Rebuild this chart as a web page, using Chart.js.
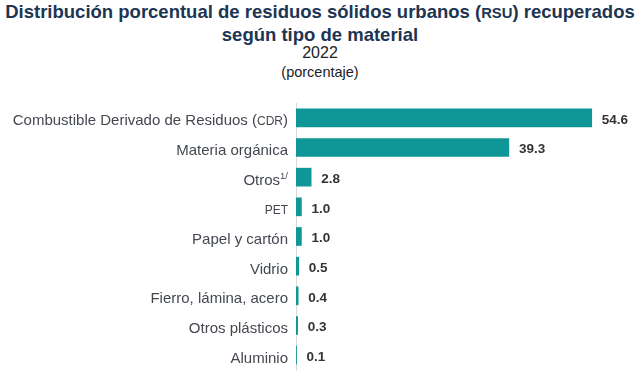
<!DOCTYPE html>
<html><head><meta charset="utf-8">
<script src="https://cdn.jsdelivr.net/npm/chart.js@4/dist/chart.umd.min.js"></script>
<style>
html,body{margin:0;padding:0;background:#fff;width:640px;height:375px;overflow:hidden;font-family:"Liberation Sans",Arial,sans-serif;}
#t1{position:absolute;left:0;top:1px;width:640px;text-align:center;font-weight:bold;font-size:18.5px;line-height:21px;color:#1c3553;}
#t2{position:absolute;left:0;top:44px;width:640px;text-align:center;font-size:16px;line-height:18px;color:#222;}
#t3{position:absolute;left:0;top:64px;width:640px;text-align:center;font-size:14.5px;line-height:17px;color:#222;}
.sc{font-size:0.8em;}
#wrap{position:absolute;left:0;top:95px;width:640px;height:280px;}
</style></head><body>
<div id="t1">Distribución porcentual de residuos sólidos urbanos (<span class="sc">RSU</span>) recuperados<br>según tipo de material</div>
<div id="t2">2022</div>
<div id="t3">(porcentaje)</div>
<div id="wrap"><canvas id="c" width="640" height="280"></canvas></div>
<script>
const categories = ['Combustible Derivado de Residuos (CDR)','Materia orgánica','Otros^1/','PET','Papel y cartón','Vidrio','Fierro, lámina, acero','Otros plásticos','Aluminio'];
const values = [54.6, 39.3, 2.8, 1.0, 1.0, 0.5, 0.4, 0.3, 0.1];

const FONT = '"Liberation Sans", Arial, sans-serif';
function parseLabel(s){
  const parts=[];
  const re=/(\^[^ ]+)|([A-Z]{2,})/g;
  let last=0,m;
  while((m=re.exec(s))){
    if(m.index>last) parts.push({t:s.slice(last,m.index),k:'n'});
    if(m[1]) parts.push({t:m[1].slice(1),k:'sup'}); else parts.push({t:m[2],k:'sc'});
    last=re.lastIndex;
  }
  if(last<s.length) parts.push({t:s.slice(last),k:'n'});
  return parts;
}
const fonts={n:'15px '+FONT, sc:'12px '+FONT, sup:'9.5px '+FONT};
const labelPlugin={
  id:'richLabels',
  afterDraw(chart){
    const ctx=chart.ctx, ys=chart.scales.y;
    ctx.save();
    ctx.fillStyle='#434850';
    ctx.textBaseline='alphabetic';
    ctx.textAlign='left';
    categories.forEach((lab,i)=>{
      const parts=parseLabel(lab);
      let w=0; parts.forEach(p=>{ctx.font=fonts[p.k]; p.w=ctx.measureText(p.t).width; w+=p.w;});
      let x=ys.right-8-w; const y=ys.getPixelForTick(i)+7.5;
      parts.forEach(p=>{ctx.font=fonts[p.k]; ctx.fillText(p.t,x,p.k==='sup'?y-6:y); x+=p.w;});
    });
    const meta=chart.getDatasetMeta(0);
    ctx.font='bold 13.5px '+FONT; ctx.fillStyle='#333'; ctx.textBaseline='middle';
    meta.data.forEach((bar,i)=>{ctx.fillText(values[i].toFixed(1),bar.x+10,bar.y+2);});
    ctx.restore();
  }
};
new Chart(document.getElementById('c'),{
  type:'bar',
  data:{labels:categories,datasets:[{data:values,backgroundColor:'#0f9696',barThickness:18,borderWidth:0}]},
  options:{
    indexAxis:'y',responsive:false,animation:false,
    layout:{padding:{left:0,right:19,top:8,bottom:5}},
    plugins:{legend:{display:false},tooltip:{enabled:false}},
    scales:{
      x:{display:false,min:0,max:60,grid:{display:false}},
      y:{grid:{display:false,drawTicks:false},border:{color:'#d9d9d9',width:1},
         ticks:{display:false},
         afterFit(s){s.width=296;}}
    }
  },
  plugins:[labelPlugin]
});
</script>
</body></html>
